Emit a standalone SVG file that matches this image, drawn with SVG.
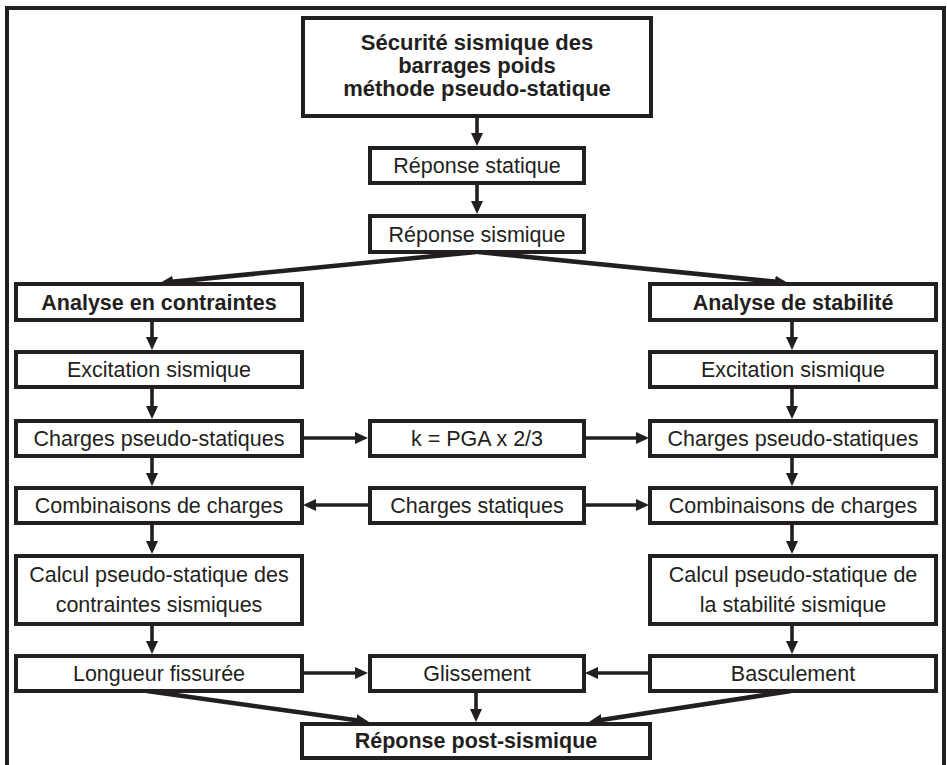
<svg xmlns="http://www.w3.org/2000/svg" width="947" height="765" viewBox="0 0 947 765">
  <style>
    .box { fill: #ffffff; stroke: #231f20; stroke-width: 4; }
    .frame { fill: none; stroke: #231f20; stroke-width: 4; }
    .t { font-family: "Liberation Sans", Arial, sans-serif; font-size: 21.5px; fill: #231f20; text-anchor: middle; }
    .b { font-weight: bold; }
    .h { font-size: 22px; }
    .c { fill: none; stroke: #231f20; stroke-width: 3.6; marker-end: url(#ah); }
    .d { stroke-width: 4.6; }
  </style>
  <defs>
    <marker id="ah" viewBox="0 0 13 12" refX="4" refY="6" markerWidth="13" markerHeight="12" markerUnits="userSpaceOnUse" orient="auto">
      <path d="M0,0 L13,6 L0,12 z" fill="#231f20"/>
    </marker>
  </defs>

  <!-- outer frame (open at the bottom edge of the page) -->
  <rect class="frame" x="7" y="8" width="937" height="800"/>

  <!-- connectors -->
  <g id="connectors">
    <line class="c" x1="477" y1="116" x2="477" y2="137"/>
    <line class="c" x1="477" y1="183" x2="477" y2="205"/>
    <line class="c d" x1="476" y1="252" x2="169" y2="282.1"/>
    <line class="c d" x1="478" y1="252" x2="779" y2="282.1"/>

    <line class="c" x1="152" y1="320" x2="152" y2="341"/>
    <line class="c" x1="152" y1="387" x2="152" y2="410"/>
    <line class="c" x1="152" y1="456" x2="152" y2="477"/>
    <line class="c" x1="152" y1="523" x2="152" y2="545"/>
    <line class="c" x1="152" y1="624" x2="152" y2="645"/>

    <line class="c" x1="792" y1="320" x2="792" y2="341"/>
    <line class="c" x1="792" y1="387" x2="792" y2="410"/>
    <line class="c" x1="792" y1="456" x2="792" y2="477"/>
    <line class="c" x1="792" y1="523" x2="792" y2="545"/>
    <line class="c" x1="792" y1="624" x2="792" y2="645"/>

    <line class="c" x1="302" y1="438" x2="359" y2="438"/>
    <line class="c" x1="584" y1="438" x2="640" y2="438"/>
    <line class="c" x1="370" y1="505" x2="312" y2="505"/>
    <line class="c" x1="584" y1="505" x2="640" y2="505"/>
    <line class="c" x1="302" y1="673" x2="359" y2="673"/>
    <line class="c" x1="650" y1="673" x2="594" y2="673"/>

    <line class="c" x1="476" y1="691" x2="476" y2="713"/>
    <line class="c d" x1="147" y1="691" x2="360.1" y2="720.8"/>
    <line class="c d" x1="791" y1="691" x2="597.9" y2="720.6"/>
  </g>

  <g id="n-titre">
    <rect class="box" x="303" y="18" width="348" height="98"/>
    <text class="t b h" x="477" y="49.5">Sécurité sismique des</text>
    <text class="t b h" x="477" y="72.5">barrages poids</text>
    <text class="t b h" x="477" y="95.5">méthode pseudo-statique</text>
  </g>
  <g id="n-reponse-statique">
    <rect class="box" x="370" y="148" width="214" height="35"/>
    <text class="t" x="477" y="173">Réponse statique</text>
  </g>
  <g id="n-reponse-sismique">
    <rect class="box" x="370" y="216" width="214" height="36"/>
    <text class="t" x="477" y="241.5">Réponse sismique</text>
  </g>

  <g id="n-analyse-contraintes">
    <rect class="box" x="16" y="284" width="286" height="36"/>
    <text class="t b" x="159" y="309.5">Analyse en contraintes</text>
  </g>
  <g id="n-analyse-stabilite">
    <rect class="box" x="650" y="284" width="286" height="36"/>
    <text class="t b" x="793" y="309.5">Analyse de stabilité</text>
  </g>

  <g id="n-excitation-g">
    <rect class="box" x="16" y="352" width="286" height="35"/>
    <text class="t" x="159" y="377">Excitation sismique</text>
  </g>
  <g id="n-excitation-d">
    <rect class="box" x="650" y="352" width="286" height="35"/>
    <text class="t" x="793" y="377">Excitation sismique</text>
  </g>

  <g id="n-charges-ps-g">
    <rect class="box" x="16" y="421" width="286" height="35"/>
    <text class="t" x="159" y="446">Charges pseudo-statiques</text>
  </g>
  <g id="n-k">
    <rect class="box" x="370" y="421" width="214" height="35"/>
    <text class="t" x="477" y="446">k = PGA x 2/3</text>
  </g>
  <g id="n-charges-ps-d">
    <rect class="box" x="650" y="421" width="286" height="35"/>
    <text class="t" x="793" y="446">Charges pseudo-statiques</text>
  </g>

  <g id="n-combinaisons-g">
    <rect class="box" x="16" y="488" width="286" height="35"/>
    <text class="t" x="159" y="513">Combinaisons de charges</text>
  </g>
  <g id="n-charges-statiques">
    <rect class="box" x="370" y="488" width="214" height="35"/>
    <text class="t" x="477" y="513">Charges statiques</text>
  </g>
  <g id="n-combinaisons-d">
    <rect class="box" x="650" y="488" width="286" height="35"/>
    <text class="t" x="793" y="513">Combinaisons de charges</text>
  </g>

  <g id="n-calcul-contraintes">
    <rect class="box" x="16" y="556" width="286" height="68"/>
    <text class="t" x="159" y="582">Calcul pseudo-statique des</text>
    <text class="t" x="159" y="612">contraintes sismiques</text>
  </g>
  <g id="n-calcul-stabilite">
    <rect class="box" x="650" y="556" width="286" height="68"/>
    <text class="t" x="793" y="582">Calcul pseudo-statique de</text>
    <text class="t" x="793" y="612">la stabilité sismique</text>
  </g>

  <g id="n-longueur">
    <rect class="box" x="16" y="656" width="286" height="35"/>
    <text class="t" x="159" y="681">Longueur fissurée</text>
  </g>
  <g id="n-glissement">
    <rect class="box" x="370" y="656" width="214" height="35"/>
    <text class="t" x="477" y="681">Glissement</text>
  </g>
  <g id="n-basculement">
    <rect class="box" x="650" y="656" width="286" height="35"/>
    <text class="t" x="793" y="681">Basculement</text>
  </g>

  <g id="n-post-sismique">
    <rect class="box" x="302" y="724" width="348" height="34"/>
    <text class="t b" x="476" y="748">Réponse post-sismique</text>
  </g>
</svg>
